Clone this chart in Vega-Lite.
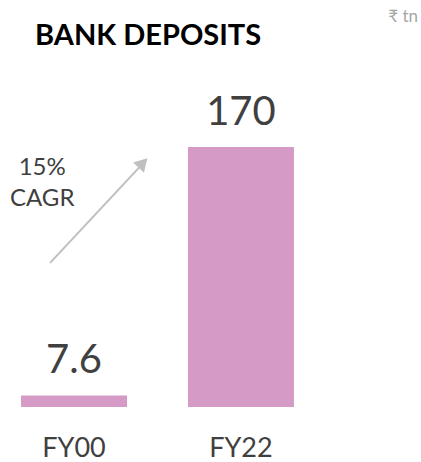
{
  "$schema": "https://vega.github.io/schema/vega-lite/v6.json",
  "width": 315,
  "height": 260,
  "autosize": "none",
  "padding": {"left": 0, "top": 147, "right": 106, "bottom": 55},
  "config": {"view": {"stroke": null}, "font": "Lato"},
  "layer": [
    {
      "data": {"values": [{"year": "FY00", "deposits": 7.6}, {"year": "FY22", "deposits": 170}]},
      "layer": [
        {
          "mark": {"type": "bar", "color": "#D59AC5"},
          "encoding": {
            "x": {"field": "year", "type": "nominal", "scale": {"paddingInner": 0.365, "paddingOuter": 0.126}, "axis": {"title": null, "domain": false, "ticks": false, "labelAngle": 0, "labelFontSize": 27, "labelColor": "#404040", "labelFont": "Lato", "labelPadding": 28, "labelBaseline": "top"}},
            "y": {"field": "deposits", "type": "quantitative", "scale": {"domain": [0, 170], "nice": false}, "axis": null}
          }
        },
        {
          "mark": {"type": "text", "fontSize": 40, "color": "#404040", "baseline": "alphabetic", "dy": -22, "font": "Lato"},
          "encoding": {
            "x": {"field": "year", "type": "nominal"},
            "y": {"field": "deposits", "type": "quantitative"},
            "text": {"field": "deposits", "type": "quantitative"}
          }
        }
      ]
    },
    {
      "data": {"values": [{"note": "15% CAGR"}]},
      "layer": [
        {
          "mark": {"type": "text", "text": "BANK DEPOSITS", "fontSize": 29, "fontWeight": "bold", "color": "#000000", "baseline": "alphabetic", "align": "left", "font": "Lato"},
          "encoding": {
            "x": {"datum": "FY00", "bandPosition": 0.132},
            "y": {"datum": 236.7}
          }
        },
        {
          "mark": {"type": "rule", "color": "#BFBFBF", "strokeWidth": 2},
          "encoding": {
            "x": {"datum": "FY00", "bandPosition": 0.274},
            "x2": {"datum": "FY00", "bandPosition": 1.12},
            "y": {"datum": 94.2},
            "y2": {"datum": 157}
          }
        },
        {
          "mark": {"type": "point", "shape": "triangle-up", "filled": true, "color": "#BFBFBF", "size": 220, "angle": 43, "opacity": 1},
          "encoding": {
            "x": {"datum": "FY00", "bandPosition": 1.15},
            "y": {"datum": 159.6}
          }
        },
        {
          "mark": {"type": "text", "text": ["15%", "CAGR"], "fontSize": 24, "lineHeight": 31, "color": "#404040", "baseline": "middle", "align": "center", "font": "Lato"},
          "encoding": {
            "x": {"datum": "FY00", "bandPosition": 0.2},
            "y": {"datum": 156.3}
          }
        },
        {
          "mark": {"type": "text", "text": "₹ tn", "fontSize": 17, "color": "#A6A6A6", "baseline": "middle", "align": "right", "font": "Lato"},
          "encoding": {
            "x": {"datum": "FY22", "bandPosition": 2.17},
            "y": {"datum": 255}
          }
        }
      ]
    }
  ]
}
